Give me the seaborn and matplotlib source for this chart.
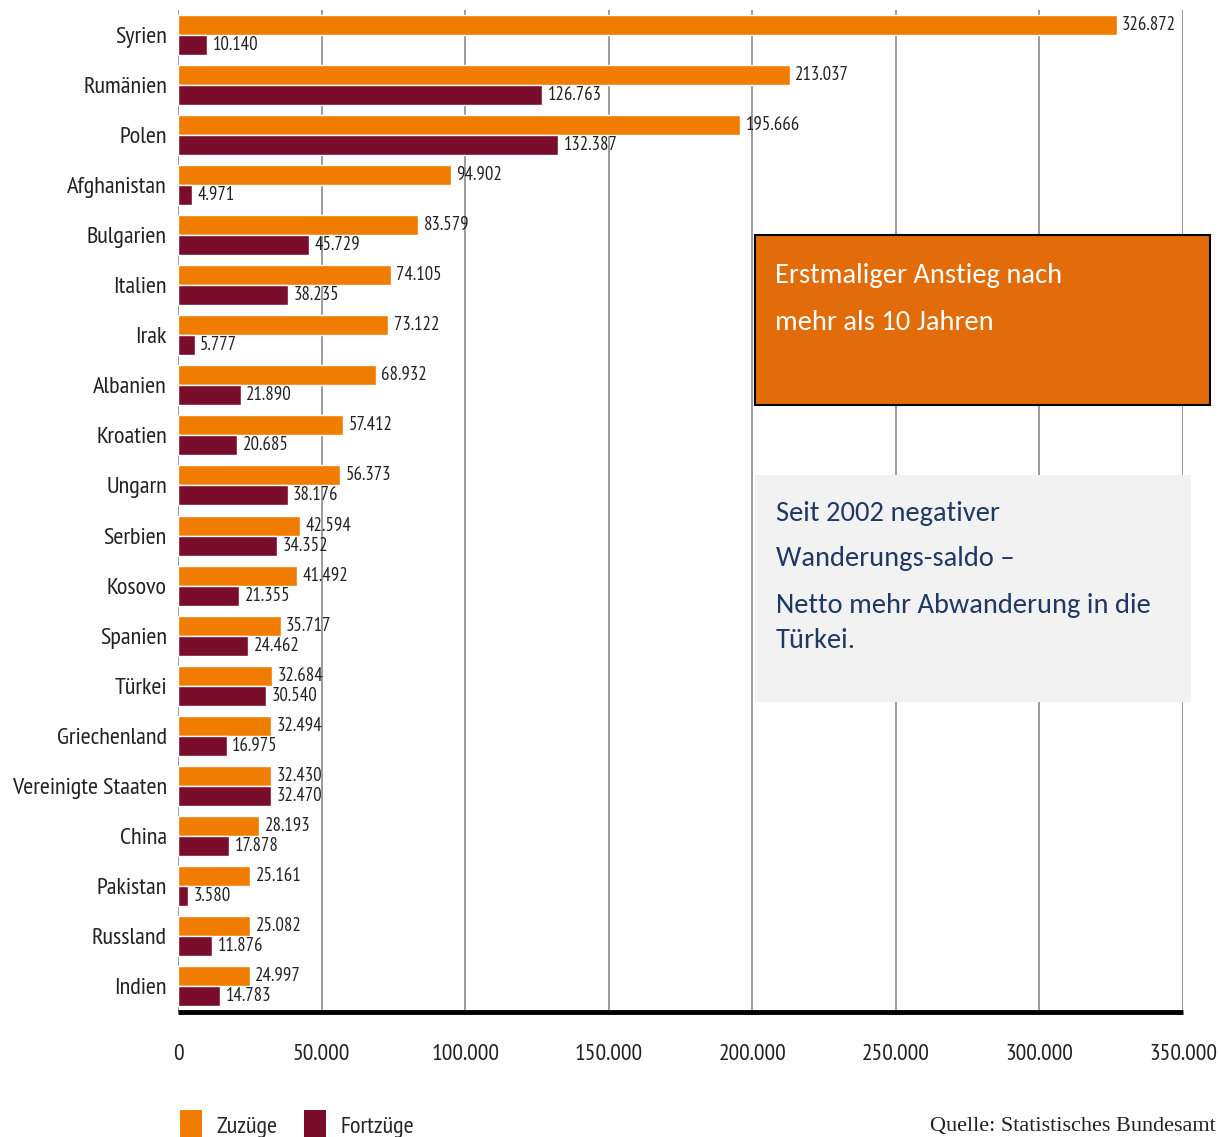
import matplotlib
matplotlib.use("Agg")
import matplotlib.pyplot as plt
from matplotlib import font_manager
from matplotlib.patches import Patch, Rectangle
import pandas as pd
import seaborn as sns

# --- data -----------------------------------------------------------------
countries = ["Syrien", "Rumänien", "Polen", "Afghanistan", "Bulgarien", "Italien",
             "Irak", "Albanien", "Kroatien", "Ungarn", "Serbien", "Kosovo", "Spanien",
             "Türkei", "Griechenland", "Vereinigte Staaten", "China", "Pakistan",
             "Russland", "Indien"]
zuzuege = [326872, 213037, 195666, 94902, 83579, 74105, 73122, 68932, 57412, 56373,
           42594, 41492, 35717, 32684, 32494, 32430, 28193, 25161, 25082, 24997]
fortzuege = [10140, 126763, 132387, 4971, 45729, 38235, 5777, 21890, 20685, 38176,
             34352, 21355, 24462, 30540, 16975, 32470, 17878, 3580, 11876, 14783]
series_names = ["Zuzüge", "Fortzüge"]
x_ticks = [0, 50000, 100000, 150000, 200000, 250000, 300000, 350000]

ORANGE = "#F07D00"
MAROON = "#7A0C2C"

# --- fonts ----------------------------------------------------------------
available = {f.name for f in font_manager.fontManager.ttflist}


def pick(cands, default):
    for c in cands:
        if c in available:
            return c
    return default


NARROW = pick(["PT Sans Narrow", "Liberation Sans Narrow", "DejaVu Sans Condensed",
               "Roboto Condensed", "Open Sans Condensed"], "Lato")
SERIF = pick(["DejaVu Serif Condensed", "Liberation Serif"], "DejaVu Serif")
BOXFONT = pick(["Carlito", "Lato", "Open Sans"], "DejaVu Sans")

sns.set_theme(style="white")
plt.rcParams["font.family"] = [NARROW, "DejaVu Sans"]


def fmt(v):
    return f"{v:,}".replace(",", ".")


df = pd.DataFrame({
    "Land": countries * 2,
    "Wert": zuzuege + fortzuege,
    "Art": [series_names[0]] * len(countries) + [series_names[1]] * len(countries),
})

fig = plt.figure(figsize=(12.21, 11.37), dpi=100)
ax = fig.add_axes([178 / 1221, 1 - 1012 / 1137, 1005 / 1221, 1002 / 1137])

sns.barplot(data=df, y="Land", x="Wert", hue="Art", orient="h",
            palette=[ORANGE, MAROON], width=0.8, dodge=True, ax=ax,
            legend=False, zorder=3, saturation=1)

for cont, vals in zip(ax.containers, [zuzuege, fortzuege]):
    ax.bar_label(cont, labels=[fmt(v) for v in vals], padding=4,
                 fontsize=13.5, color="#222222")

ax.set_xlim(0, 350000)
ax.set_ylim(19.52, -0.5)
ax.set_xticks(x_ticks)
ax.set_xticklabels([fmt(v) for v in x_ticks], fontsize=17, color="#222222")
ax.tick_params(axis="x", length=0, pad=23)
ax.tick_params(axis="y", length=0, pad=8, labelsize=17.5, labelcolor="#222222")
ax.set_xlabel("")
ax.set_ylabel("")
ax.grid(axis="x", color="#8a8a8a", linewidth=1.2, zorder=0)
ax.grid(axis="y", visible=False)
for side in ["top", "left", "right"]:
    ax.spines[side].set_visible(False)
ax.spines["bottom"].set_color("black")
ax.spines["bottom"].set_linewidth(3.5)
ax.spines["bottom"].set_capstyle("butt")
ax.spines["bottom"].set_zorder(5)

# --- annotation boxes -----------------------------------------------------
def px(x, y):
    return x / 1221, 1 - y / 1137


x0, y0 = px(755, 405)
fig.add_artist(Rectangle((x0, y0), (1210 - 755) / 1221, (405 - 235) / 1137,
                         transform=fig.transFigure, facecolor="#E36C0A",
                         edgecolor="black", linewidth=1.5, zorder=10))
for txt, yy in [("Erstmaliger Anstieg nach", 275), ("mehr als 10 Jahren", 323)]:
    fig.text(*px(775, yy), txt, color="white", fontsize=20.5, family=BOXFONT,
             va="center", ha="left", zorder=11)

x1, y1 = px(755, 702)
fig.add_artist(Rectangle((x1, y1), (1191 - 755) / 1221, (702 - 475) / 1137,
                         transform=fig.transFigure, facecolor="#F2F2F2",
                         edgecolor="none", zorder=10))
for txt, yy in [("Seit 2002 negativer", 514), ("Wanderungs-saldo –", 559),
                ("Netto mehr Abwanderung in die", 605), ("Türkei.", 640)]:
    fig.text(*px(776, yy), txt, color="#1F3864", fontsize=20.5, family=BOXFONT,
             va="center", ha="left", zorder=11)

# --- legend and source ----------------------------------------------------
handles = [Patch(facecolor=ORANGE, edgecolor="none"),
           Patch(facecolor=MAROON, edgecolor="none")]
fig.legend(handles, series_names, loc="upper left",
           bbox_to_anchor=px(170, 1100), ncol=2, frameon=False, fontsize=17.5,
           handlelength=0.9, handleheight=1.6, handletextpad=0.6,
           columnspacing=1.1, borderaxespad=0)

fig.text(*px(1216, 1127), "Quelle: Statistisches Bundesamt", ha="right",
         va="center", fontsize=16, family=SERIF, color="#222222")

fig.savefig("out.png", dpi=100)
